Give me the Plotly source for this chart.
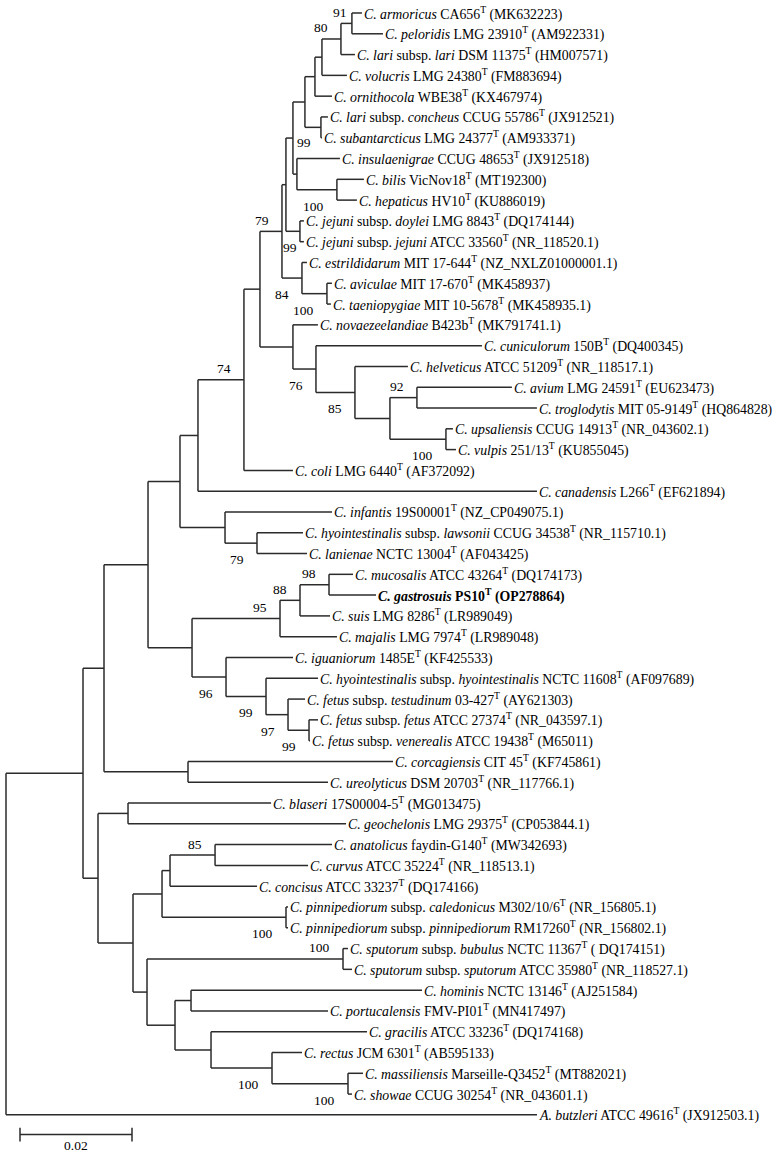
import plotly.graph_objects as go

# ---------------- data ----------------
leaf_keys = ["armoricus", "peloridis", "lari", "volucris", "ornithocola", "concheus",
             "subantarcticus", "insulaenigrae", "bilis", "hepaticus", "doylei", "jejuni",
             "estrildidarum", "aviculae", "taeniopygiae", "novaezeelandiae", "cuniculorum",
             "helveticus", "avium", "troglodytis", "upsaliensis", "vulpis", "coli",
             "canadensis", "infantis", "lawsonii", "lanienae", "mucosalis", "gastrosuis",
             "suis", "majalis", "iguaniorum", "hyointestinalis", "testudinum", "fetus",
             "venerealis", "corcagiensis", "ureolyticus", "blaseri", "geochelonis",
             "anatolicus", "curvus", "concisus", "caledonicus", "pinnipediorum", "bubulus",
             "sputorum", "hominis", "portucalensis", "gracilis", "rectus", "massiliensis",
             "showae", "butzleri"]

leaf_labels = [
    "<i>C. armoricus</i> CA656<sup>T</sup> (MK632223)",
    "<i>C. peloridis</i> LMG 23910<sup>T</sup> (AM922331)",
    "<i>C. lari</i> subsp. <i>lari</i> DSM 11375<sup>T</sup> (HM007571)",
    "<i>C. volucris</i> LMG 24380<sup>T</sup> (FM883694)",
    "<i>C. ornithocola</i> WBE38<sup>T</sup> (KX467974)",
    "<i>C. lari</i> subsp. <i>concheus</i> CCUG 55786<sup>T</sup> (JX912521)",
    "<i>C. subantarcticus</i> LMG 24377<sup>T</sup> (AM933371)",
    "<i>C. insulaenigrae</i> CCUG 48653<sup>T</sup> (JX912518)",
    "<i>C. bilis</i> VicNov18<sup>T</sup> (MT192300)",
    "<i>C. hepaticus</i> HV10<sup>T</sup> (KU886019)",
    "<i>C. jejuni</i> subsp. <i>doylei</i> LMG 8843<sup>T</sup> (DQ174144)",
    "<i>C. jejuni</i> subsp. <i>jejuni</i> ATCC 33560<sup>T</sup> (NR_118520.1)",
    "<i>C. estrildidarum</i> MIT 17-644<sup>T</sup> (NZ_NXLZ01000001.1)",
    "<i>C. aviculae</i> MIT 17-670<sup>T</sup> (MK458937)",
    "<i>C. taeniopygiae</i> MIT 10-5678<sup>T</sup> (MK458935.1)",
    "<i>C. novaezeelandiae</i> B423b<sup>T</sup> (MK791741.1)",
    "<i>C. cuniculorum</i> 150B<sup>T</sup> (DQ400345)",
    "<i>C. helveticus</i> ATCC 51209<sup>T</sup> (NR_118517.1)",
    "<i>C. avium</i> LMG 24591<sup>T</sup> (EU623473)",
    "<i>C. troglodytis</i> MIT 05-9149<sup>T</sup> (HQ864828)",
    "<i>C. upsaliensis</i> CCUG 14913<sup>T</sup> (NR_043602.1)",
    "<i>C. vulpis</i> 251/13<sup>T</sup> (KU855045)",
    "<i>C. coli</i> LMG 6440<sup>T</sup> (AF372092)",
    "<i>C. canadensis</i> L266<sup>T</sup> (EF621894)",
    "<i>C. infantis</i> 19S00001<sup>T</sup> (NZ_CP049075.1)",
    "<i>C. hyointestinalis</i> subsp. <i>lawsonii</i> CCUG 34538<sup>T</sup> (NR_115710.1)",
    "<i>C. lanienae</i> NCTC 13004<sup>T</sup> (AF043425)",
    "<i>C. mucosalis</i> ATCC 43264<sup>T</sup> (DQ174173)",
    "<b><i>C. gastrosuis</i> PS10<sup>T</sup> (OP278864)</b>",
    "<i>C. suis</i> LMG 8286<sup>T</sup> (LR989049)",
    "<i>C. majalis</i> LMG 7974<sup>T</sup> (LR989048)",
    "<i>C. iguaniorum</i> 1485E<sup>T</sup> (KF425533)",
    "<i>C. hyointestinalis</i> subsp. <i>hyointestinalis</i> NCTC 11608<sup>T</sup> (AF097689)",
    "<i>C. fetus</i> subsp. <i>testudinum</i> 03-427<sup>T</sup> (AY621303)",
    "<i>C. fetus</i> subsp. <i>fetus</i> ATCC 27374<sup>T</sup> (NR_043597.1)",
    "<i>C. fetus</i> subsp. <i>venerealis</i> ATCC 19438<sup>T</sup> (M65011)",
    "<i>C. corcagiensis</i> CIT 45<sup>T</sup> (KF745861)",
    "<i>C. ureolyticus</i> DSM 20703<sup>T</sup> (NR_117766.1)",
    "<i>C. blaseri</i> 17S00004-5<sup>T</sup> (MG013475)",
    "<i>C. geochelonis</i> LMG 29375<sup>T</sup> (CP053844.1)",
    "<i>C. anatolicus</i> faydin-G140<sup>T</sup> (MW342693)",
    "<i>C. curvus</i> ATCC 35224<sup>T</sup> (NR_118513.1)",
    "<i>C. concisus</i> ATCC 33237<sup>T</sup> (DQ174166)",
    "<i>C. pinnipediorum</i> subsp. <i>caledonicus</i> M302/10/6<sup>T</sup> (NR_156805.1)",
    "<i>C. pinnipediorum</i> subsp. <i>pinnipediorum</i> RM17260<sup>T</sup> (NR_156802.1)",
    "<i>C. sputorum</i> subsp. <i>bubulus</i> NCTC 11367<sup>T</sup> ( DQ174151)",
    "<i>C. sputorum</i> subsp. <i>sputorum</i> ATCC 35980<sup>T</sup> (NR_118527.1)",
    "<i>C. hominis</i> NCTC 13146<sup>T</sup> (AJ251584)",
    "<i>C. portucalensis</i> FMV-PI01<sup>T</sup> (MN417497)",
    "<i>C. gracilis</i> ATCC 33236<sup>T</sup> (DQ174168)",
    "<i>C. rectus</i> JCM 6301<sup>T</sup> (AB595133)",
    "<i>C. massiliensis</i> Marseille-Q3452<sup>T</sup> (MT882021)",
    "<i>C. showae</i> CCUG 30254<sup>T</sup> (NR_043601.1)",
    "<i>A. butzleri</i> ATCC 49616<sup>T</sup> (JX912503.1)",
]

# tree edges: child, parent, branch length (substitutions per site)
edge_child = [
    "ingroup", "butzleri",
    "nA", "nV",
    "nB", "nU",
    "corcagiensis", "ureolyticus",
    "nC", "nT",
    "nD", "nS",
    "n74", "canadensis",
    "nE", "coli",
    "n79", "nP",
    "nF", "n84",
    "nG", "nN",
    "nH", "nL",
    "nI", "nK",
    "nJ", "ornithocola",
    "n80", "volucris",
    "n91", "lari",
    "armoricus", "peloridis",
    "concheus", "subantarcticus",
    "insulaenigrae", "nM",
    "bilis", "hepaticus",
    "doylei", "jejuni",
    "estrildidarum", "nO",
    "aviculae", "taeniopygiae",
    "novaezeelandiae", "n76",
    "cuniculorum", "n85a",
    "helveticus", "nQ",
    "n92", "nR",
    "avium", "troglodytis",
    "upsaliensis", "vulpis",
    "infantis", "n79b",
    "lawsonii", "lanienae",
    "n95", "n96",
    "n88", "majalis",
    "n98", "suis",
    "mucosalis", "gastrosuis",
    "iguaniorum", "n99c",
    "hyointestinalis", "n97",
    "testudinum", "n99d",
    "fetus", "venerealis",
    "nW", "nX",
    "blaseri", "geochelonis",
    "nY", "nAA",
    "nZ", "nPin",
    "n85b", "concisus",
    "anatolicus", "curvus",
    "caledonicus", "pinnipediorum",
    "nSp", "nAB",
    "bubulus", "sputorum",
    "nAC", "nAD",
    "hominis", "portucalensis",
    "gracilis", "nAE",
    "rectus", "nAF",
    "massiliensis", "showae",
]
edge_parent = [
    "root", "root",
    "ingroup", "ingroup",
    "nA", "nA",
    "nU", "nU",
    "nB", "nB",
    "nC", "nC",
    "nD", "nD",
    "n74", "n74",
    "nE", "nE",
    "n79", "n79",
    "nF", "nF",
    "nG", "nG",
    "nH", "nH",
    "nI", "nI",
    "nJ", "nJ",
    "n80", "n80",
    "n91", "n91",
    "nK", "nK",
    "nL", "nL",
    "nM", "nM",
    "nN", "nN",
    "n84", "n84",
    "nO", "nO",
    "nP", "nP",
    "n76", "n76",
    "n85a", "n85a",
    "nQ", "nQ",
    "n92", "n92",
    "nR", "nR",
    "nS", "nS",
    "n79b", "n79b",
    "nT", "nT",
    "n95", "n95",
    "n88", "n88",
    "n98", "n98",
    "n96", "n96",
    "n99c", "n99c",
    "n97", "n97",
    "n99d", "n99d",
    "nV", "nV",
    "nW", "nW",
    "nX", "nX",
    "nY", "nY",
    "nZ", "nZ",
    "n85b", "n85b",
    "nPin", "nPin",
    "nAA", "nAA",
    "nSp", "nSp",
    "nAB", "nAB",
    "nAC", "nAC",
    "nAD", "nAD",
    "nAE", "nAE",
    "nAF", "nAF",
]
edge_length = [
    0.01375, 0.09482,
    0.00375, 0.00268,
    0.00786, 0.01500,
    0.03661, 0.02500,
    0.00571, 0.00786,
    0.00321, 0.00804,
    0.00821, 0.06054,
    0.00286, 0.00875,
    0.00393, 0.00589,
    0.00071, 0.00357,
    0.00125, 0.00250,
    0.00214, 0.00071,
    0.00179, 0.00286,
    0.00125, 0.00304,
    0.00339, 0.00446,
    0.00196, 0.00250,
    0.00179, 0.00554,
    0.00125, 0.00018,
    0.00768, 0.00714,
    0.00482, 0.00357,
    0.00071, 0.00071,
    0.00089, 0.00446,
    0.00089, 0.00071,
    0.00446, 0.00411,
    0.02964, 0.00696,
    0.00946, 0.00625,
    0.00482, 0.01000,
    0.01696, 0.02143,
    0.00125, 0.00179,
    0.01911, 0.00571,
    0.00821, 0.00893,
    0.01571, 0.00607,
    0.00357, 0.01018,
    0.00518, 0.00536,
    0.00429, 0.00839,
    0.01196, 0.00714,
    0.00929, 0.00393,
    0.00304, 0.00375,
    0.00161, 0.00018,
    0.00536, 0.00625,
    0.02554, 0.03893,
    0.00518, 0.00250,
    0.00143, 0.02214,
    0.00804, 0.01554,
    0.02089, 0.01661,
    0.00036, 0.00036,
    0.03500, 0.00500,
    0.00089, 0.00161,
    0.00286, 0.00643,
    0.04125, 0.02446,
    0.02786, 0.01089,
    0.00536, 0.01357,
    0.00268, 0.00071,
]

# bootstrap support values (node, value, placement a=above / b=below / r=right)
support_node = ["n91", "n80", "nG", "nM", "n79", "nN", "n84", "nO", "n74", "n76", "n85a",
                "n92", "nR", "n79b", "n98", "n88", "n95", "n96", "n99c", "n97", "n99d",
                "n85b", "nPin", "nSp", "nAE", "nAF"]
support_value = [91, 80, 99, 100, 79, 99, 84, 100, 74, 76, 85, 92, 100, 79, 98, 88, 95, 96,
                 99, 97, 99, 85, 100, 100, 100, 100]
support_side = ["a", "a", "r", "b", "a", "b", "b", "b", "a", "b", "b", "a", "b", "b", "a",
                "a", "a", "b", "b", "b", "b", "a", "b", "a", "b", "b"]

scale_value = 0.02
scale_text = "0.02"

# ---------------- layout computation ----------------
PX_PER_UNIT = 5600.0      # horizontal pixels per substitution unit
ROW_PX = 20.79            # vertical pixels per leaf row
ROOT_PX = 6.0
TOP_PX = 13.0
W, H = 777, 1156

children = {}
length_of = {}
for c, p, l in zip(edge_child, edge_parent, edge_length):
    children.setdefault(p, []).append(c)
    length_of[c] = l

xpos = {"root": 0.0}
stack = ["root"]
while stack:
    n = stack.pop()
    for c in children.get(n, []):
        xpos[c] = xpos[n] + length_of[c]
        stack.append(c)

ypos = {k: float(i) for i, k in enumerate(leaf_keys)}


def get_y(n):
    if n in ypos:
        return ypos[n]
    ys = [get_y(c) for c in children[n]]
    ypos[n] = (min(ys) + max(ys)) / 2.0
    return ypos[n]


get_y("root")

lx, ly = [], []
for n, chs in children.items():
    cys = [ypos[c] for c in chs]
    lx += [xpos[n], xpos[n], None]
    ly += [min(cys), max(cys), None]
    for c in chs:
        lx += [xpos[n], xpos[c], None]
        ly += [ypos[c], ypos[c], None]

line_color = "#2b2b2b"
fig = go.Figure()
fig.add_trace(go.Scatter(x=lx, y=ly, mode="lines", line=dict(color=line_color, width=1.5),
                         hoverinfo="skip", showlegend=False))

# scale bar
sb_x0 = 14 / PX_PER_UNIT
sb_y = len(leaf_keys) - 0.05
tick = 0.33
fig.add_trace(go.Scatter(
    x=[sb_x0, sb_x0 + scale_value, None, sb_x0, sb_x0, None, sb_x0 + scale_value, sb_x0 + scale_value],
    y=[sb_y, sb_y, None, sb_y - tick, sb_y + tick, None, sb_y - tick, sb_y + tick],
    mode="lines", line=dict(color=line_color, width=1.5), hoverinfo="skip", showlegend=False))

FONT = "Liberation Serif, Times New Roman, serif"
annotations = []
for k, lab in zip(leaf_keys, leaf_labels):
    annotations.append(dict(x=xpos[k], y=ypos[k], text=lab, showarrow=False, xanchor="left",
                            yanchor="middle", xshift=0, yshift=0,
                            font=dict(family=FONT, size=13.8, color="black")))

for n, v, s in zip(support_node, support_value, support_side):
    if s == "a":
        xa, xs, ys = "right", -11, 11
    elif s == "b":
        xa, xs, ys = "right", -11, -16.5
    else:
        xa, xs, ys = "left", 2, -4
    if n == "n91":
        xs = -3
    if n == "nN":
        xs = -1
    annotations.append(dict(x=xpos[n], y=ypos[n], text=str(v), showarrow=False, xanchor=xa,
                            yanchor="middle", xshift=xs, yshift=ys,
                            font=dict(family=FONT, size=13.5, color="black")))

annotations.append(dict(x=sb_x0 + scale_value / 2, y=sb_y + 0.5, text=scale_text, showarrow=False,
                        xanchor="center", yanchor="middle",
                        font=dict(family=FONT, size=13.5, color="black")))

x0 = -ROOT_PX / PX_PER_UNIT
x1 = x0 + W / PX_PER_UNIT
y_top = -TOP_PX / ROW_PX
y_bot = y_top + H / ROW_PX

fig.update_layout(
    width=W, height=H,
    margin=dict(l=0, r=0, t=0, b=0),
    paper_bgcolor="white", plot_bgcolor="white",
    xaxis=dict(range=[x0, x1], visible=False, fixedrange=True),
    yaxis=dict(range=[y_bot, y_top], visible=False, fixedrange=True),
    annotations=annotations,
    showlegend=False,
)

fig.write_html("out.html", config={"displayModeBar": False, "staticPlot": True},
               post_script="document.body.style.margin='0px';document.body.style.overflow='hidden';")
